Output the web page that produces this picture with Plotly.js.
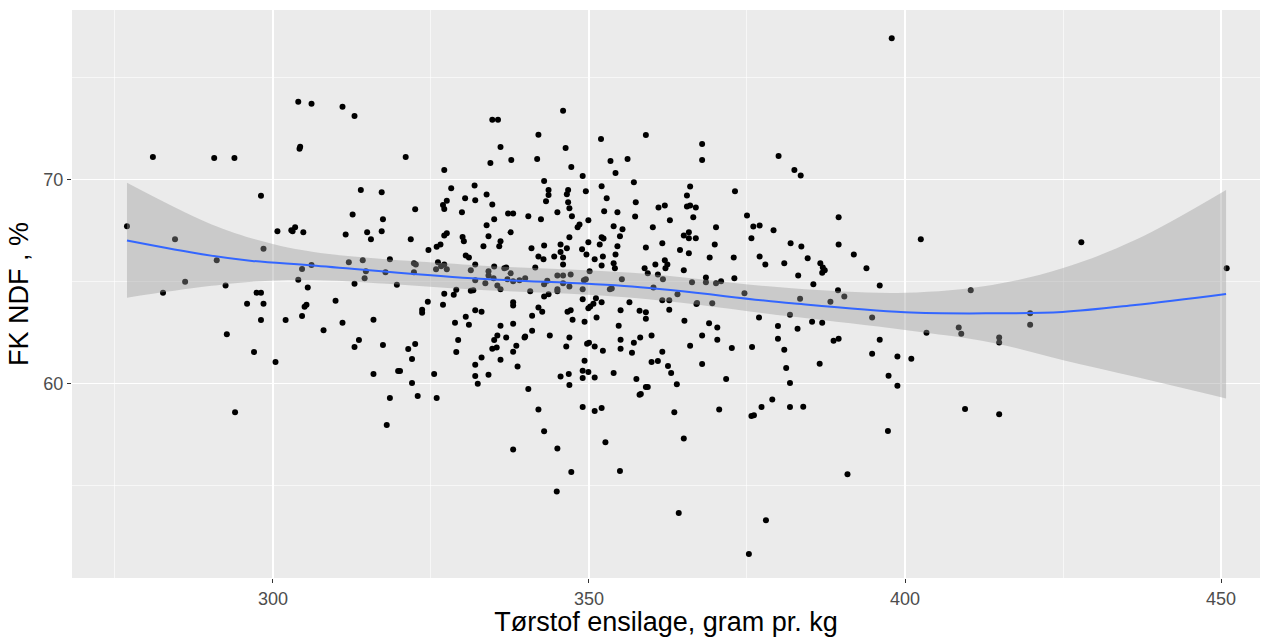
<!DOCTYPE html>
<html>
<head>
<meta charset="utf-8">
<script src="https://cdn.plot.ly/plotly-3.0.1.min.js"></script>
<style>
html,body{margin:0;padding:0;background:#fff;}
#chart{width:1268px;height:637px;}
</style>
</head>
<body>
<div id="chart"></div>
<script>
// Dry matter of silage (g/kg) for each sample
const dryMatter = [
304.0,306.1,304.2,304.3,281.0,290.7,293.9,298.1,276.9,300.7,302.9,303.5,303.1,304.8,284.5,298.5,
291.1,304.6,306.1,286.1,304.0,305.5,282.6,292.5,297.4,298.1,295.9,298.5,305.0,305.3,298.1,302.0,304.6,292.7,297.0,300.4,294.0,
311.0,312.9,321.0,327.1,313.9,317.2,328.2,330.4,327.5,326.9,327.1,322.5,329.9,312.6,317.4,311.5,314.9,317.2,315.5,321.8,327.1,327.5,330.0,330.2,325.9,326.5,324.6,
330.5,331.0,312.0,314.2,318.5,322.3,322.6,326.1,326.6,327.1,327.5,325.8,331.3,314.7,317.8,322.3,314.5,312.9,319.6,327.1,328.6,329.0,331.3,309.9,324.5,326.9,323.6,323.6,315.9,311.0,308.0,328.8,330.5,331.0,313.6,312.9,317.4,322.5,321.4,322.0,329.3,329.0,315.9,319.8,320.1,325.5,322.0,318.5,322.9,325.9,318.0,
345.9,334.7,335.6,342.0,351.9,336.0,334.4,337.7,341.8,346.3,347.2,353.4,356.1,354.2,349.0,342.9,331.9,343.6,343.6,346.7,346.5,349.5,352.0,352.8,333.8,332.0,334.7,343.2,346.7,346.9,337.2,338.0,340.4,345.0,347.3,352.4,354.5,335.0,342.4,349.9,333.8,337.6,348.2,348.5,353.9,355.3,334.1,346.9,352.0,352.3,354.9,336.0,333.3,335.8,340.9,342.9,345.5,346.5,349.9,351.7,354.5,348.9,
342.0,342.8,344.5,345.5,345.9,345.9,349.6,350.9,352.2,352.0,354.2,353.9,354.1,332.0,335.0,336.6,336.9,341.5,334.1,334.1,332.0,333.6,334.9,335.5,336.0,337.1,337.6,338.0,339.0,339.9,342.9,343.4,345.0,345.9,347.1,345.0,345.9,346.9,345.0,349.2,349.5,350.1,349.0,353.3,353.6,355.2,331.7,340.7,342.9,343.6,349.0,351.1,350.7,352.0,338.0,338.0,332.0,333.0,342.0,342.6,346.6,347.1,349.9,350.2,355.0,356.4,341.0,338.0,336.0,347.4,349.3,351.2,354.7,343.8,346.9,349.7,350.0,350.9,352.2,355.0,355.0,356.8,336.9,335.5,335.0,339.8,339.9,341.0,338.5,335.4,334.7,338.0,346.4,333.0,336.0,332.0,338.7,349.3,332.0,334.1,332.4,345.5,346.8,349.0,349.9,349.0,350.9,353.9,346.9,340.4,342.0,349.0,350.9,352.0,342.9,352.6,338.0,345.0,
359.0,367.9,367.9,380.0,357.1,366.0,373.1,365.5,357.4,361.0,362.0,365.5,366.0,366.9,357.3,362.8,366.5,360.1,370.1,375.0,376.0,377.0,379.2,365.0,365.8,365.8,366.9,361.6,369.9,375.7,381.9,359.0,364.4,
365.8,369.1,372.9,377.0,377.9,380.9,358.8,360.5,362.0,362.4,362.1,359.3,360.9,365.0,368.5,368.5,373.0,370.9,370.1,366.3,361.7,360.2,364.0,361.6,362.7,374.6,367.0,367.1,369.5,358.0,359.0,359.0,362.7,365.1,369.0,370.3,376.9,379.9,381.8,358.1,357.1,359.9,367.9,370.3,366.0,372.6,375.8,379.9,380.9,361.6,359.9,360.9,367.9,362.5,363.0,381.2,357.5,371.7,363.9,381.8,359.0,359.3,358.0,358.2,379.0,377.3,381.8,363.5,370.6,375.7,376.1,365.0,
397.9,382.5,383.5,389.5,383.6,389.5,402.5,
384.6,391.9,386.6,387.0,387.3,386.9,383.1,393.9,385.5,396.0,389.4,383.4,388.2,390.4,410.4,394.8,403.4,408.5,408.9,383.0,385.3,386.9,388.7,389.5,396.0,394.8,398.8,401.0,386.5,397.4,398.8,383.9,409.5,397.3,390.9,
427.9,450.9,419.8,419.8,414.9,414.9,414.9,
344.9,347.2,354.9,364.2,375.3,378.0
];
// FK NDF (%) for each sample
const fkNdf = [
73.8,73.7,71.5,71.6,71.1,71.04,71.04,69.2,67.7,67.45,67.5,67.65,67.45,67.4,67.06,66.6,
66.03,65.6,65.8,64.98,65.08,64.7,64.44,64.8,64.44,64.44,63.9,63.9,63.75,63.85,63.1,63.1,63.3,62.4,61.53,61.04,58.58,
73.56,73.1,71.1,70.46,69.48,69.36,69.56,69.07,68.95,68.74,68.54,68.53,68.38,68.28,68.04,67.3,67.4,67.45,67.06,67.06,67.25,67.35,67.17,66.96,66.7,66.8,66.53,
66.27,66.17,65.93,66.03,66.08,65.88,65.83,65.93,65.74,65.83,65.59,65.59,65.54,65.49,65.44,65.44,65.15,64.88,64.83,64.39,64.34,64.59,64.54,64.05,64.0,63.85,63.6,63.46,63.12,62.97,62.6,62.97,63.26,62.87,62.12,61.78,61.88,61.93,61.68,61.19,62.12,61.53,60.46,60.6,60.6,60.46,60.01,59.28,59.38,59.28,57.96,
73.36,72.92,72.92,72.19,71.98,71.58,70.8,70.95,71.0,71.53,70.6,70.9,71.0,70.31,70.16,69.92,69.7,69.48,69.23,69.48,69.27,69.41,69.66,69.07,69.26,68.97,68.77,68.92,68.87,68.58,68.33,68.33,68.19,68.38,68.19,68.43,68.38,68.04,68.04,67.99,67.75,67.4,67.65,67.79,67.7,67.55,67.21,67.16,67.16,67.1,67.21,66.96,66.72,66.72,66.62,66.76,66.81,66.62,66.91,66.81,66.72,66.57,
66.22,66.08,66.22,66.44,66.17,65.83,66.32,66.08,66.22,65.78,66.32,65.88,65.64,65.83,65.73,65.64,65.68,65.68,65.49,65.29,65.05,64.9,65.15,64.8,64.61,65.1,65.39,65.0,65.05,65.15,64.85,65.03,65.29,65.29,65.34,64.61,64.9,64.75,64.51,65.05,65.1,65.49,64.61,64.61,64.65,65.1,64.56,64.51,64.26,64.36,64.12,64.17,63.9,63.97,63.97,63.81,63.58,63.51,63.72,63.51,63.51,63.58,63.68,63.77,63.58,63.97,63.31,62.92,62.82,63.12,63.02,63.22,62.82,62.34,62.24,61.94,61.99,61.8,61.6,62.14,61.7,61.5,62.24,62.34,62.12,62.24,62.29,62.58,61.84,61.75,61.7,61.55,61.8,61.26,61.16,60.91,60.82,61.11,60.36,60.42,59.98,60.33,60.46,60.62,60.55,60.26,60.28,60.5,59.92,59.72,58.72,58.84,58.64,58.79,57.65,57.11,56.76,56.81,
72.17,71.73,70.95,71.14,69.85,69.65,69.41,69.21,68.87,68.62,68.72,68.67,68.72,68.62,68.18,67.99,68.14,67.65,67.65,68.23,67.69,67.74,67.5,67.25,67.4,67.11,67.11,66.86,66.81,67.11,66.86,66.66,66.53,
66.37,66.17,66.17,66.22,65.83,65.88,65.64,65.83,66.03,65.83,65.64,65.39,65.34,65.54,65.19,64.95,65.15,65.0,64.9,64.95,65.1,64.7,64.36,64.07,64.07,64.41,63.89,63.94,63.92,63.56,63.48,63.17,63.61,63.07,62.94,62.73,63.22,62.81,63.36,62.24,61.99,62.34,62.34,62.14,61.84,61.73,61.78,62.19,61.65,61.55,61.04,61.09,60.95,60.85,60.5,60.75,60.21,60.21,59.95,60.01,59.82,59.82,59.44,59.48,59.21,58.84,58.84,58.58,58.72,58.4,58.43,57.3,
76.91,70.46,70.19,68.14,66.71,66.81,67.06,
66.13,66.32,65.88,65.68,65.54,65.42,65.29,65.64,64.85,64.8,64.56,64.15,64.0,64.25,64.56,63.22,62.48,62.73,62.43,62.68,63.02,62.97,62.09,62.19,62.14,61.45,61.31,61.21,60.96,60.37,59.88,58.85,58.74,57.66,55.54,
66.91,65.64,63.43,62.87,62.25,62.0,58.48,
54.7,55.65,55.7,53.64,51.63,53.29
];

// Loess smoother and its confidence band
const smoothX     = [276.9, 289.3, 296.7, 306.2, 331.5, 356.8, 382.1, 400.0, 413.8, 424.9, 436.4, 450.8];
const smoothFit   = [67.0, 66.3, 66.0, 65.78, 65.15, 64.74, 63.92, 63.48, 63.43, 63.5, 63.84, 64.38];
const smoothUpper = [69.83, 67.92, 67.1, 66.45, 65.8, 65.42, 64.66, 64.44, 64.82, 65.64, 67.02, 69.48];
const smoothLower = [64.2, 64.74, 64.98, 65.06, 64.6, 64.2, 63.27, 62.61, 61.99, 61.14, 60.32, 59.26];

const xTickVals = [300, 350, 400, 450];
const yTickVals = [60, 70];

const traces = [
  {
    x: dryMatter, y: fkNdf, type: 'scatter', mode: 'markers',
    marker: {color: '#000000', size: 6, line: {width: 0}},
    hoverinfo: 'x+y', showlegend: false
  },
  {
    x: smoothX, y: smoothLower, type: 'scatter', mode: 'lines',
    line: {width: 0, color: 'rgba(0,0,0,0)', shape: 'spline'},
    hoverinfo: 'skip', showlegend: false
  },
  {
    x: smoothX, y: smoothUpper, type: 'scatter', mode: 'lines',
    line: {width: 0, color: 'rgba(0,0,0,0)', shape: 'spline'},
    fill: 'tonexty', fillcolor: 'rgba(153,153,153,0.4)',
    hoverinfo: 'skip', showlegend: false
  },
  {
    x: smoothX, y: smoothFit, type: 'scatter', mode: 'lines',
    line: {width: 2, color: '#3366FF', shape: 'spline'},
    hoverinfo: 'skip', showlegend: false
  }
];

const layout = {
  width: 1268, height: 637,
  paper_bgcolor: '#FFFFFF',
  plot_bgcolor: '#EBEBEB',
  margin: {l: 72, r: 8, t: 10, b: 59},
  font: {family: 'Liberation Sans, Arial, sans-serif'},
  showlegend: false,
  xaxis: {
    range: [268.2, 456.17],
    tickvals: xTickVals, ticktext: xTickVals.map(String),
    ticks: 'outside', ticklen: 4, tickwidth: 1, tickcolor: '#333333',
    tickfont: {size: 18, color: '#4D4D4D'},
    showgrid: true, gridcolor: '#FFFFFF', gridwidth: 1.2,
    minor: {dtick: 25, tick0: 0, showgrid: true, gridcolor: '#FFFFFF', gridwidth: 0.6},
    zeroline: false, showline: false,
    title: {text: 'Tørstof ensilage, gram pr. kg', font: {size: 27, color: '#000000'}, standoff: 4},
    automargin: false
  },
  yaxis: {
    range: [50.456, 78.30],
    tickvals: yTickVals, ticktext: yTickVals.map(String),
    ticks: 'outside', ticklen: 4, tickwidth: 1, tickcolor: '#333333',
    tickfont: {size: 18, color: '#4D4D4D'},
    showgrid: true, gridcolor: '#FFFFFF', gridwidth: 1.2,
    minor: {dtick: 5, tick0: 0, showgrid: true, gridcolor: '#FFFFFF', gridwidth: 0.6},
    zeroline: false, showline: false,
    title: {text: 'FK NDF , %', font: {size: 27, color: '#000000'}, standoff: 6},
    automargin: false
  }
};

Plotly.newPlot('chart', traces, layout, {displayModeBar: false, staticPlot: true});
</script>
</body>
</html>
